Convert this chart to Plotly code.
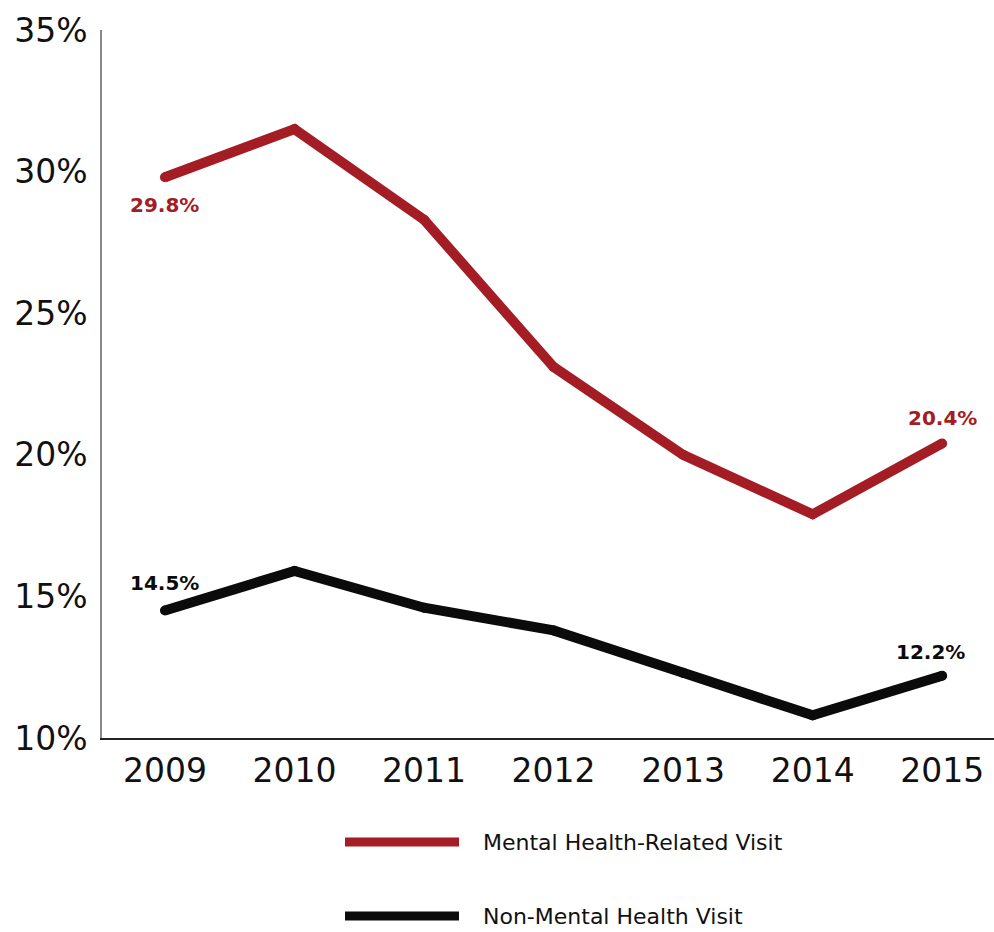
import plotly.graph_objects as go

years = [2009, 2010, 2011, 2012, 2013, 2014, 2015]
mental = [29.8, 31.5, 28.3, 23.1, 20.0, 17.9, 20.4]
non_mental = [14.5, 15.9, 14.6, 13.8, 12.3, 10.8, 12.2]
y_ticks = [10, 15, 20, 25, 30, 35]
y_tick_text = ["10%", "15%", "20%", "25%", "30%", "35%"]
series_names = ["Mental Health-Related Visit", "Non-Mental Health Visit"]

RED = "#A41D24"
BLACK = "#0b0b0b"
FONT = "DejaVu Sans, sans-serif"
LW = 10

fig = go.Figure()
for vals, col, name in [(mental, RED, series_names[0]), (non_mental, BLACK, series_names[1])]:
    fig.add_trace(go.Scatter(x=years, y=vals, mode="lines+markers", name=name,
                             line=dict(color=col, width=LW),
                             marker=dict(color=col, size=LW, line=dict(width=0)),
                             showlegend=False, hoverinfo="skip"))

annots = [
    dict(x=years[0], y=mental[0], text=f"{mental[0]:.1f}%", yshift=-28, color=RED),
    dict(x=years[-1], y=mental[-1], text=f"{mental[-1]:.1f}%", yshift=25, color=RED),
    dict(x=years[0], y=non_mental[0], text=f"{non_mental[0]:.1f}%", yshift=28, color=BLACK),
    dict(x=years[-1], y=non_mental[-1], text=f"{non_mental[-1]:.1f}%", yshift=24, color=BLACK, xshift=-12),
]
for a in annots:
    fig.add_annotation(x=a["x"], y=a["y"], xref="x", yref="y", text=f"<b>{a['text']}</b>",
                       showarrow=False, yshift=a["yshift"], xshift=a.get("xshift", 0),
                       font=dict(family=FONT, size=20, color=a["color"]))

# manual legend
PLOT_TOP, PLOT_BOTTOM, H = 30, 738, 932
legend_rows = [(series_names[0], RED, 842), (series_names[1], BLACK, 916)]
for name, col, ypx in legend_rows:
    yp = (H - ypx - (H - PLOT_BOTTOM)) / (PLOT_BOTTOM - PLOT_TOP)
    fig.add_shape(type="line", xref="paper", yref="paper",
                  x0=(345 - 102) / 892, x1=(459 - 102) / 892, y0=yp, y1=yp,
                  line=dict(color=col, width=9))
    fig.add_annotation(xref="paper", yref="paper", x=(481 - 102) / 892, y=yp,
                       xanchor="left", yanchor="middle", showarrow=False, text=name,
                       font=dict(family=FONT, size=22, color="#111"))

fig.update_layout(
    width=994, height=932,
    margin=dict(l=102, r=0, t=PLOT_TOP, b=H - PLOT_BOTTOM),
    plot_bgcolor="white", paper_bgcolor="white",
    font=dict(family=FONT, color="#111"),
)
fig.update_xaxes(range=[2008.514, 2015.40], tickvals=years, ticktext=[str(y) for y in years],
                 showgrid=False, zeroline=False, showline=True, linecolor="#222", linewidth=2,
                 ticks="", ticklabelstandoff=2, tickfont=dict(family=FONT, size=33, color="#111"))
fig.update_yaxes(range=[10, 35], tickvals=y_ticks, ticktext=y_tick_text,
                 showgrid=False, zeroline=False, showline=True, linecolor="#888", linewidth=1.5,
                 ticks="", ticklabelstandoff=6, tickfont=dict(family=FONT, size=33, color="#111"))

fig.write_html("out.html", config={"displayModeBar": False},
               post_script="document.body.style.margin='0px';document.body.style.overflow='hidden';")
